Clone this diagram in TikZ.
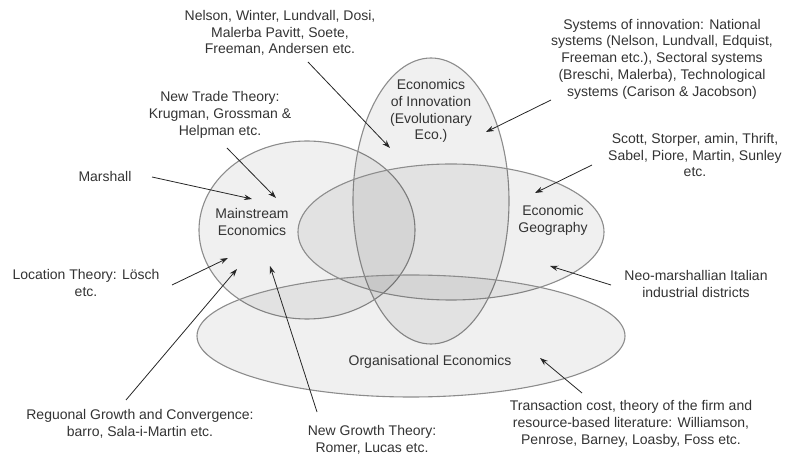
\documentclass[tikz,border=0pt]{standalone}
\usepackage{fontspec}
\setmainfont{Liberation Sans}
\usetikzlibrary{arrows.meta}
\definecolor{txtgray}{HTML}{333333}
\definecolor{rimgray}{HTML}{8C8C8C}
\tikzset{
  blob/.style={draw=rimgray, line width=1.1pt, fill=black, fill opacity=0.06},
  lbl/.style={text=txtgray, align=center, inner sep=0pt, font=\fontsize{14}{16.8}\selectfont},
  pointer/.style={draw=black!85, line width=0.8pt, -{Stealth[length=8pt,width=5.5pt]}}
}
\begin{document}
\begin{tikzpicture}[x=1pt,y=-1pt]
\useasboundingbox (0,0) rectangle (788,454);
% the four fields
\draw [blob] (307,230) ellipse [x radius=108, y radius=89];
\draw [blob] (431,201) ellipse [x radius=78, y radius=143];
\draw [blob] (451,232) ellipse [x radius=153, y radius=68];
\draw [blob] (411,336) ellipse [x radius=214, y radius=61];

% field names
\node [lbl] (mainstream) at (252,222) {Mainstream\\Economics};
\node [lbl] (innovation) at (431,111) {Economics\\of Innovation\\(Evolutionary\\Eco.)};
\node [lbl] (geography) at (553,220) {Economic\\Geography};
\node [lbl] (organisation) at (430,362) {Organisational Economics};

% literature
\node [lbl] (nelson) at (280,33) {Nelson, Winter, Lundvall, Dosi,\\Malerba Pavitt, Soete,\\Freeman, Andersen etc.};
\node [lbl] (systems) at (662,59) {Systems of innovation: National\\systems (Nelson, Lundvall, Edquist,\\Freeman etc.), Sectoral systems\\(Breschi, Malerba), Technological\\systems (Carison \& Jacobson)};
\node [lbl] (scott) at (695,155) {Scott, Storper, amin, Thrift,\\Sabel, Piore, Martin, Sunley\\etc.};
\node [lbl] (neo) at (696,284) {Neo-marshallian Italian\\industrial districts};
\node [lbl] (trade) at (220,115) {New Trade Theory:\\Krugman, Grossman \&\\Helpman etc.};
\node [lbl] (marshall) at (105,176) {Marshall};
\node [lbl] (losch) at (86,283) {Location Theory: Lösch\\etc.};
\node [lbl] (regional) at (140,424) {Reguonal Growth and Convergence:\\barro, Sala-i-Martin etc.};
\node [lbl] (growth) at (372,440) {New Growth Theory:\\Romer, Lucas etc.};
\node [lbl] (transaction) at (631,424) {Transaction cost, theory of the firm and\\resource-based literature: Williamson,\\Penrose, Barney, Loasby, Foss etc.};

% arrow ends
\coordinate (nelsonT) at (308,62);   \coordinate (nelsonH) at (390,148);
\coordinate (systemsT) at (551,100); \coordinate (systemsH) at (486,132);
\coordinate (scottT) at (592,165);   \coordinate (scottH) at (535,193);
\coordinate (neoT) at (611,285);     \coordinate (neoH) at (550,266);
\coordinate (tradeT) at (227,148);   \coordinate (tradeH) at (276,198);
\coordinate (marshallT) at (152,177); \coordinate (marshallH) at (252,199);
\coordinate (loschT) at (172,285);   \coordinate (loschH) at (228,258);
\coordinate (regionalT) at (126,400); \coordinate (regionalH) at (237,269);
\coordinate (growthT) at (317,412);  \coordinate (growthH) at (270,266);
\coordinate (transT) at (582,393);   \coordinate (transH) at (540,358);

\foreach \t/\h in {nelsonT/nelsonH, systemsT/systemsH, scottT/scottH, neoT/neoH,
  tradeT/tradeH, marshallT/marshallH, loschT/loschH, regionalT/regionalH,
  growthT/growthH, transT/transH}
  \draw [pointer] (\t) -- (\h);
\end{tikzpicture}
\end{document}
